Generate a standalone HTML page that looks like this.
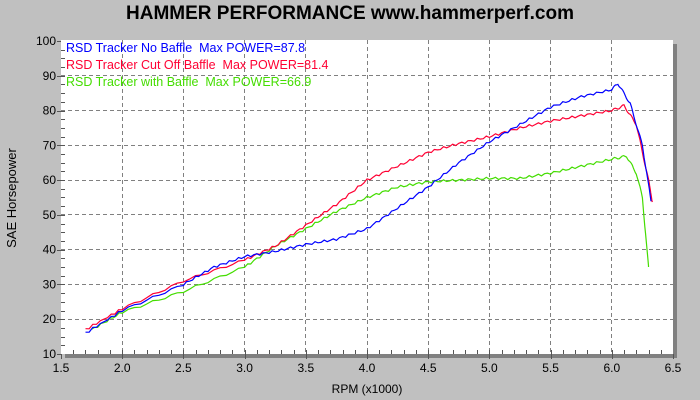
<!DOCTYPE html>
<html><head><meta charset="utf-8"><style>
body{margin:0;background:#c0c0c0;}
svg{display:block;font-family:"Liberation Sans",sans-serif;}
text{white-space:pre;}
</style></head><body>
<svg id="s" width="700" height="400" xmlns="http://www.w3.org/2000/svg">
<rect width="700" height="400" fill="#c0c0c0"/>
<text x="350" y="19" text-anchor="middle" font-size="19" font-weight="bold" fill="#000">HAMMER PERFORMANCE www.hammerperf.com</text>
<rect x="65" y="44" width="612" height="314" fill="#808080"/>
<rect x="61" y="40" width="612" height="314" fill="#fff"/>
<path stroke="#808080" stroke-width="1" stroke-dasharray="4,3" fill="none" d="M122.5 40V354M183.5 40V354M244.5 40V354M305.5 40V354M367.5 40V354M428.5 40V354M489.5 40V354M550.5 40V354M611.5 40V354M61 319.5H673M61 284.5H673M61 249.5H673M61 214.5H673M61 180.5H673M61 145.5H673M61 110.5H673M61 75.5H673"/>
<g id="tk" stroke="#555" stroke-width="1"></g>
<g id="lab" font-size="12" fill="#000"></g>
<text x="367" y="393" text-anchor="middle" font-size="12">RPM (x1000)</text>
<text transform="translate(16,198) rotate(-90)" text-anchor="middle" font-size="13">SAE Horsepower</text>
<g id="series" fill="none" stroke-width="1.2"></g>
<text x="66" y="52" font-size="12.5" fill="#0000ff" xml:space="preserve">RSD Tracker No Baffle  Max POWER=87.8</text>
<text x="66" y="69" font-size="12.5" fill="#ff0033" xml:space="preserve">RSD Tracker Cut Off Baffle  Max POWER=81.4</text>
<text x="66" y="86" font-size="12.5" fill="#44dd00" xml:space="preserve">RSD Tracker with Baffle  Max POWER=66.9</text>
</svg>
<script>
var NS="http://www.w3.org/2000/svg";
function X(r){return 61+(r-1.5)*122.4}
function Y(h){return 354-(h-10)*3.478}
function el(p,t,a,txt){var e=document.createElementNS(NS,t);for(var k in a)e.setAttribute(k,a[k]);if(txt)e.textContent=txt;document.getElementById(p).appendChild(e);return e}
for(var r=1.6;r<=6.45;r+=0.1){var x=Math.round(X(r))+0.5;el("tk","line",{x1:x,x2:x,y1:350,y2:354});}
for(var h=12.5;h<100;h+=2.5){var y=Math.round(Y(h))+0.5;el("tk","line",{x1:61,x2:65,y1:y,y2:y});}
for(var r=1.5;r<=6.51;r+=0.5){var x=Math.round(X(r))+0.5;el("tk","line",{x1:x,x2:x,y1:354,y2:359});}
for(var h=10;h<=100;h+=10){var y=Math.round(Y(h))+0.5;el("tk","line",{x1:57,x2:61,y1:y,y2:y});}
for(var r=1.5;r<=6.51;r+=0.5)el("lab","text",{x:X(r),y:372,"text-anchor":"middle"},r.toFixed(1));
for(var h=10;h<=100;h+=10)el("lab","text",{x:56,y:Y(h)+4,"text-anchor":"end"},""+h);
function draw(c,d){var p=[];for(var i=0;i<d.length-1;i++){var a=d[i],b=d[i+1];for(var t=0;t<1;t+=0.1){var r=a[0]+(b[0]-a[0])*t,hh=a[1]+(b[1]-a[1])*t+Math.sin(r*90)*0.35;p.push(X(r).toFixed(1)+","+Y(hh).toFixed(1));}}p.push(X(d[d.length-1][0])+","+Y(d[d.length-1][1]));el("series","polyline",{points:p.join(" "),stroke:c});}
draw("#44dd00",[[1.75,17],[2,22],[2.5,28],[3,35],[3.25,41],[3.5,46],[3.75,51],[4,55],[4.25,58],[4.5,59.5],[4.75,60],[5,60.5],[5.25,60.5],[5.5,62],[5.75,64],[6,66],[6.12,66.9],[6.2,62],[6.25,55],[6.3,35]]);
draw("#ff0033",[[1.7,17],[2,23],[2.5,31],[3,37],[3.25,41],[3.5,47],[3.75,53],[4,60],[4.25,64],[4.5,68],[4.75,70.5],[5,72.5],[5.25,75],[5.5,77],[5.75,78.5],[6,80],[6.1,81.4],[6.2,76],[6.3,60],[6.33,54]]);
draw("#0000ff",[[1.7,16],[2,22.5],[2.5,30],[2.75,35],[3,38],[3.25,39.5],[3.5,41.5],[3.75,43],[4,46],[4.25,52],[4.5,58],[4.75,65],[5,71],[5.25,76],[5.5,81],[5.75,84],[6,86],[6.05,87.8],[6.15,82],[6.25,70],[6.32,54]]);
</script>
</body></html>
